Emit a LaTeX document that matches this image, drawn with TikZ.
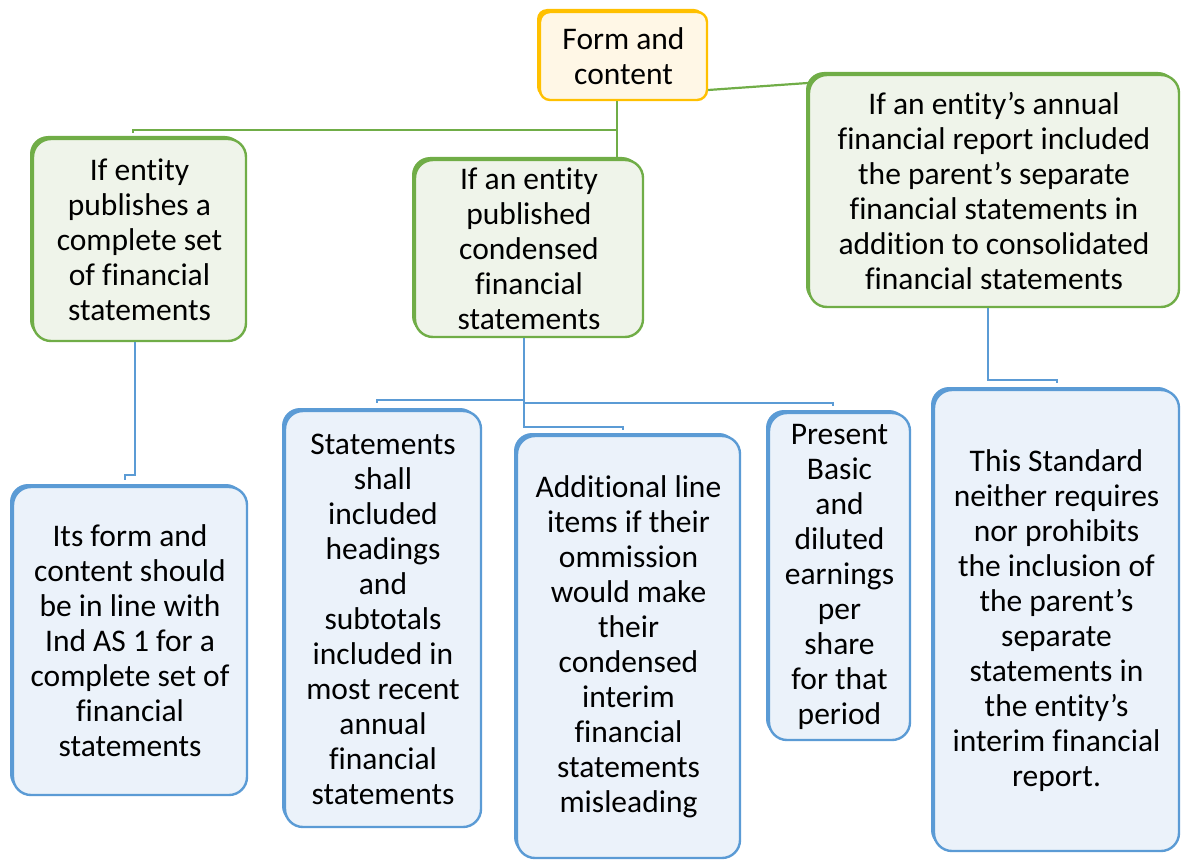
\documentclass[tikz,border=0pt]{standalone}
\usepackage{fontspec}
\setmainfont{Carlito}[Ligatures=NoCommon]
\usetikzlibrary{shadows}
\definecolor{gborder}{HTML}{70AD47}
\definecolor{gfill}{HTML}{EFF4EA}
\definecolor{bborder}{HTML}{5B9BD5}
\definecolor{bfill}{HTML}{EBF2FA}
\definecolor{oborder}{HTML}{FFC000}
\definecolor{ofill}{HTML}{FFF7E6}
\tikzset{
  box/.style={rectangle, rounded corners=18pt, line width=2.4pt, align=center, inner sep=0pt,
    font=\fontsize{31.5}{35}\selectfont},
  gbox/.style={box, draw=gborder, fill=gfill, general shadow={fill=gborder, shadow xshift=-3pt, shadow yshift=3pt}},
  bbox/.style={box, draw=bborder, fill=bfill, general shadow={fill=bborder, shadow xshift=-3pt, shadow yshift=3pt}},
  obox/.style={box, rounded corners=10pt, draw=oborder, fill=ofill, general shadow={fill=oborder, shadow xshift=-3pt, shadow yshift=3pt}},
  gconn/.style={draw=gborder, line width=2.2pt},
  bconn/.style={draw=bborder, line width=2.2pt},
}
\begin{document}
\begin{tikzpicture}[x=1pt,y=-1pt]
\useasboundingbox (0,0) rectangle (1182,861);
% boxes
\node[obox, minimum width=167pt, minimum height=88pt] (form) at (623.5,56) {Form and\\content};
\node[gbox, minimum width=213pt, minimum height=202pt] (g1) at (139.5,240) {If entity\\publishes a\\complete set\\of financial\\statements};
\node[gbox, minimum width=228pt, minimum height=177pt] (g2) at (529,248.5) {If an entity\\published\\condensed\\financial\\statements};
\node[gbox, minimum width=370pt, minimum height=232pt] (g3) at (994,191) {If an entity’s annual\\financial report included\\the parent’s separate\\financial statements in\\addition to consolidated\\financial statements};
\node[bbox, minimum width=234pt, minimum height=308pt] (b1) at (130,641) {Its form and\\content should\\be in line with\\Ind AS 1 for a\\complete set of\\financial\\statements};
\node[bbox, minimum width=196pt, minimum height=416pt] (b2) at (383,619) {Statements\\shall\\included\\headings\\and\\subtotals\\included in\\most recent\\annual\\financial\\statements};
\node[bbox, minimum width=223pt, minimum height=422pt] (b3) at (628.5,647) {Additional line\\items if their\\ommission\\would make\\their\\condensed\\interim\\financial\\statements\\misleading};
\node[bbox, minimum width=141pt, minimum height=327pt] (b4) at (839.5,576.5) {Present\\Basic\\and\\diluted\\earnings\\per\\share\\for that\\period};
\node[bbox, minimum width=245pt, minimum height=461pt] (b5) at (1056.5,620.5) {This Standard\\neither requires\\nor prohibits\\the inclusion of\\the parent’s\\separate\\statements in\\the entity’s\\interim financial\\report.};
% connector points
\coordinate (c1) at (617,130);
\coordinate (c1L) at (133,133);
\coordinate (c2) at (135,475);
\coordinate (c2L) at (125,480);
\coordinate (c3a) at (524,400);
\coordinate (c3aL) at (377,403);
\coordinate (c3b) at (524,403);
\coordinate (c3bR) at (833,406);
\coordinate (c3c) at (524,427);
\coordinate (c3cR) at (623,430);
\coordinate (c4) at (988,380);
\coordinate (c4R) at (1057,383);
% connectors
\draw[gconn] (form.south -| c1) -- (g2.north -| c1);
\draw[gconn] (c1) -| (c1L);
\draw[gconn] (form.east |- 0,90) -- (g3.west |- 0,83);
\draw[bconn] (g1.south -| c2) -- (c2) -| (c2L);
\draw[bconn] (g2.south -| c3c) -- (c3c) -| (c3cR);
\draw[bconn] (c3a) -| (c3aL);
\draw[bconn] (c3b) -| (c3bR);
\draw[bconn] (g3.south -| c4) -- (c4) -| (c4R);
\end{tikzpicture}
\end{document}
